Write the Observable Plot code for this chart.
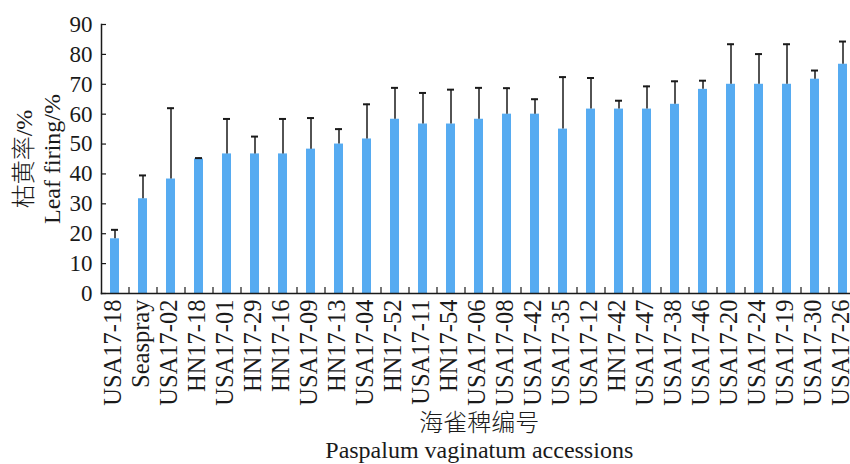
<!DOCTYPE html>
<html>
<head>
<meta charset="utf-8">
<script src="https://cdn.jsdelivr.net/npm/d3@7"></script>
<script src="https://cdn.jsdelivr.net/npm/@observablehq/plot@0.6"></script>
<style>
  body { margin: 0; background: #fff; }
  svg { display: block; }
</style>
</head>
<body>
<div id="chart"></div>
<script>
// Paspalum vaginatum accessions, sorted by leaf firing
const accessions = [
  "USA17-18", "Seaspray", "USA17-02", "HN17-18", "USA17-01", "HN17-29", "HN17-16",
  "USA17-09", "HN17-13", "USA17-04", "HN17-52", "USA17-11", "HN17-54", "USA17-06",
  "USA17-08", "USA17-42", "USA17-35", "USA17-12", "HN17-42", "USA17-47", "USA17-38",
  "USA17-46", "USA17-20", "USA17-24", "USA17-19", "USA17-30", "USA17-26"
];
// Mean leaf firing (%)
const leafFiring = [
  18.3, 31.7, 38.3, 45.0, 46.7, 46.7, 46.7,
  48.3, 50.0, 51.7, 58.3, 56.7, 56.7, 58.3,
  60.0, 60.0, 55.0, 61.7, 61.7, 61.7, 63.3,
  68.3, 70.0, 70.0, 70.0, 71.7, 76.7
];
// Standard deviation (upper error bar)
const stdDev = [
  3.0, 7.8, 23.7, 0.3, 11.7, 5.8, 11.7,
  10.4, 5.0, 11.6, 10.5, 10.4, 11.5, 10.5,
  8.7, 5.0, 17.4, 10.4, 2.8, 7.6, 7.7,
  2.9, 13.4, 10.1, 13.4, 2.9, 7.6
];
const yTicks = [0, 10, 20, 30, 40, 50, 60, 70, 80, 90];

const rows = accessions.map((name, i) => ({name, value: leafFiring[i], sd: stdDev[i]}));
const serif = '"Liberation Serif", "Noto Sans CJK SC", serif';
const ink = "#1a1a1a";

const chart = Plot.plot({
  width: 850,
  height: 464,
  marginLeft: 101,
  marginRight: -6.5,
  marginTop: 24,
  marginBottom: 171,
  style: {fontFamily: serif, background: "#fff", color: ink},
  x: {domain: accessions, paddingInner: 0.68, paddingOuter: 0.32, label: null},
  y: {domain: [0, 90], label: null},
  marks: [
    Plot.barY(rows, {x: "name", y: "value", fill: "#56abf1"}),
    // upper error whiskers with caps
    Plot.ruleX(rows, {x: "name", y1: "value", y2: d => d.value + d.sd, stroke: ink, strokeWidth: 1.5}),
    Plot.tickY(rows, {x: "name", y: d => d.value + d.sd, stroke: ink, strokeWidth: 2, insetLeft: 1, insetRight: 1}),
    // inward ticks between categories
    Plot.ruleX(accessions, {x: d => d, y1: () => 0, y2: () => 0, dx: 14, insetBottom: 6, stroke: ink, strokeWidth: 1.2}),
    Plot.axisY(yTicks, {tickSize: -5, tickPadding: 14, fontSize: 23, fontFamily: serif, fill: ink, label: null, stroke: ink, strokeWidth: 1.2}),
    Plot.axisX({tickSize: 0, tickRotate: -90, tickPadding: 6, dx: -2, fontSize: 24.5, fontFamily: serif, fill: ink, label: null}),
    Plot.frame({anchor: "left", stroke: ink, strokeWidth: 1.5}),
    Plot.frame({anchor: "bottom", stroke: ink, strokeWidth: 1.5}),
    // axis titles
    Plot.text(["枯黄率/%"], {frameAnchor: "left", text: d => d, rotate: -90, textAnchor: "middle", lineAnchor: "middle", dx: -77, fontSize: 24, fontWeight: 300, fontFamily: serif, fill: ink}),
    Plot.text(["Leaf firing/%"], {frameAnchor: "left", text: d => d, rotate: -90, textAnchor: "middle", lineAnchor: "middle", dx: -49, fontSize: 24, fontFamily: serif, fill: ink}),
    Plot.text(["海雀稗编号"], {frameAnchor: "bottom", text: d => d, textAnchor: "middle", lineAnchor: "middle", dy: 130, fontSize: 24, fontWeight: 300, fontFamily: serif, fill: ink}),
    Plot.text(["Paspalum vaginatum accessions"], {frameAnchor: "bottom", text: d => d, textAnchor: "middle", lineAnchor: "middle", dy: 157, fontSize: 24, fontFamily: serif, fill: ink})
  ]
});

document.getElementById("chart").append(chart);
</script>
</body>
</html>
